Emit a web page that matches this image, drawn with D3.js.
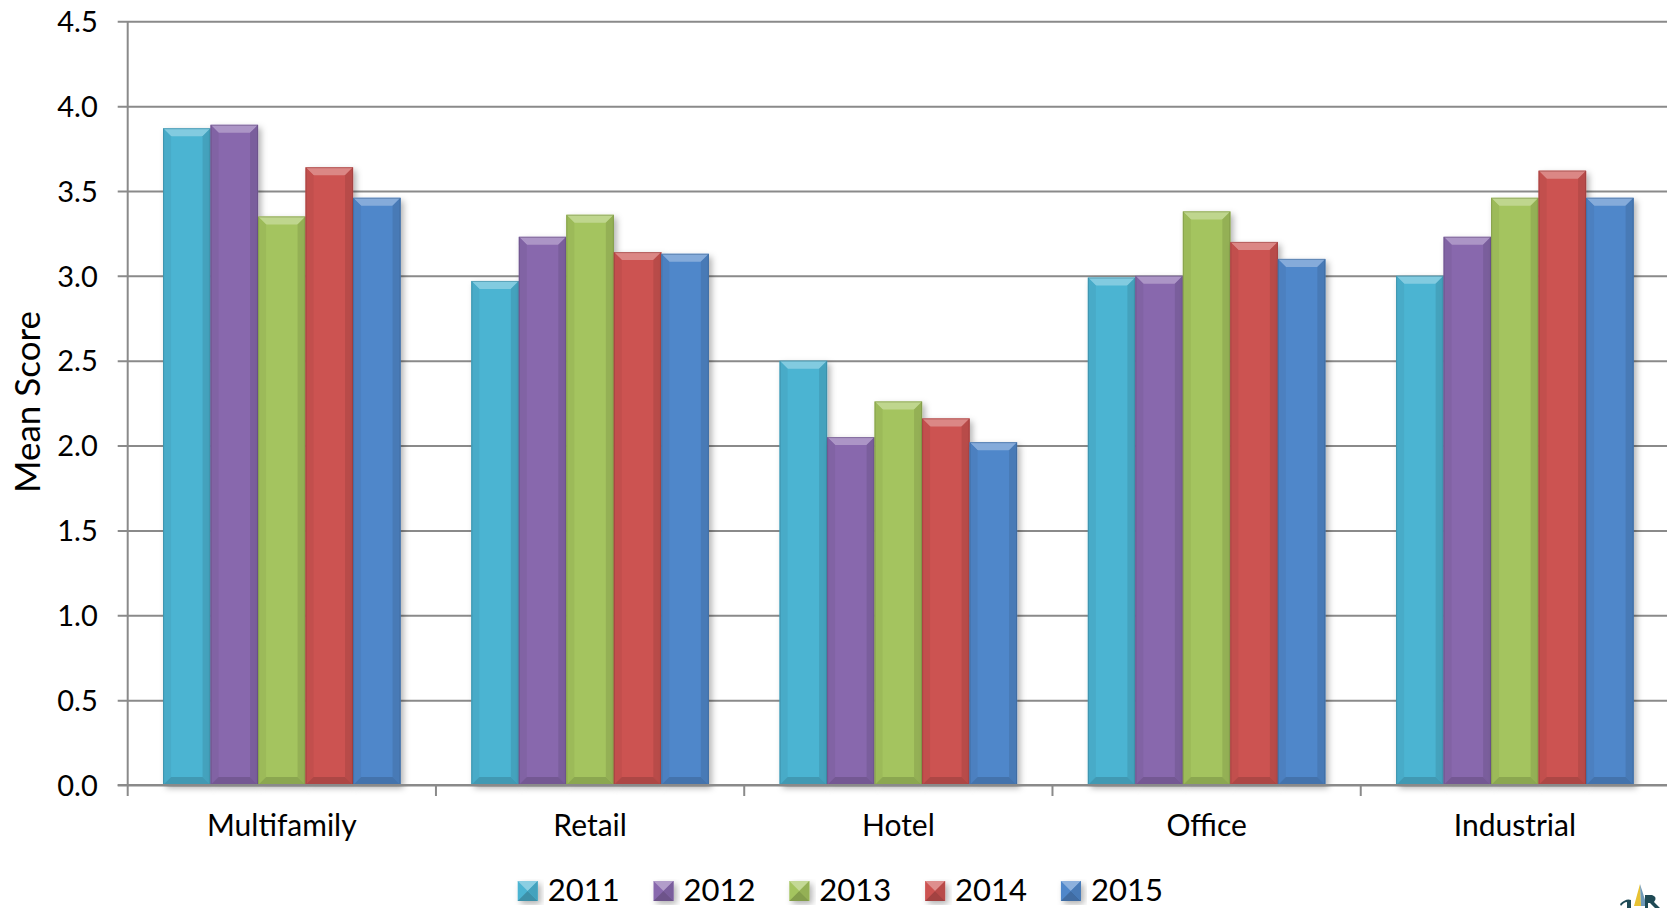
<!DOCTYPE html>
<html>
<head>
<meta charset="utf-8">
<script src="https://cdn.jsdelivr.net/npm/d3@7"></script>
<style>
  html, body { margin: 0; padding: 0; background: #fff; }
  svg { display: block; }
  text { font-family: Lato, "Open Sans", sans-serif; fill: #000; }
</style>
</head>
<body>
<svg id="chart" width="1667" height="908"></svg>
<script>
// Mean score by property type, one series per survey year
const categories = ["Multifamily", "Retail", "Hotel", "Office", "Industrial"];
const years = ["2011", "2012", "2013", "2014", "2015"];
const scores2011 = [3.87, 2.97, 2.50, 2.99, 3.00];
const scores2012 = [3.89, 3.23, 2.05, 3.00, 3.23];
const scores2013 = [3.35, 3.36, 2.26, 3.38, 3.46];
const scores2014 = [3.64, 3.14, 2.16, 3.20, 3.62];
const scores2015 = [3.46, 3.13, 2.02, 3.10, 3.46];
const yTicks = [0, 0.5, 1.0, 1.5, 2.0, 2.5, 3.0, 3.5, 4.0, 4.5];
const seriesColors = ["#4cb4d2", "#8868ad", "#a4c45e", "#cc5351", "#5087ca"];

const series = [scores2011, scores2012, scores2013, scores2014, scores2015];

const svg = d3.select("#chart");
const W = 1667, H = 908;
const margin = { left: 127.7, top: 21.3, bottom: 785, right: 1669 };

const y = d3.scaleLinear().domain([0, 4.5]).range([margin.bottom, margin.top]);
const x0 = d3.scaleBand().domain(categories).range([margin.left, margin.right]).padding(0);
const x1 = d3.scaleBand().domain(years).range([0, x0.bandwidth()])
  .paddingInner(0).paddingOuter(0.745);

const defs = svg.append("defs");
const shadow = defs.append("filter").attr("id", "barShadow")
  .attr("x", "-20%").attr("y", "-10%").attr("width", "150%").attr("height", "130%");
shadow.append("feDropShadow").attr("dx", 3).attr("dy", 3)
  .attr("stdDeviation", 3).attr("flood-color", "#000").attr("flood-opacity", 0.3);

const gridColor = "#8a8a8a";

// value axis: gridlines spanning the plot plus short outer ticks
const yAxis = d3.axisLeft(y)
  .tickValues(yTicks)
  .tickFormat(d3.format(".1f"))
  .tickSizeInner(-(W - margin.left))
  .tickSizeOuter(0)
  .tickPadding(0);

const gy = svg.append("g")
  .attr("transform", `translate(${margin.left},0)`)
  .call(yAxis);
gy.select(".domain").remove();
gy.selectAll(".tick line")
  .attr("x1", -10)
  .attr("stroke", gridColor)
  .attr("stroke-width", 2);
gy.selectAll(".tick text")
  .attr("x", -30)
  .attr("dy", "0.35em")
  .style("font-size", "29px")
  .style("font-family", "Lato, sans-serif")
  .attr("fill", "#000");

function mix(c, t, k) {
  return d3.interpolateRgb(c, t)(k);
}

// bars with a bevelled look
const bevel = 8;
const groups = svg.append("g").selectAll("g")
  .data(categories)
  .join("g")
  .attr("transform", d => `translate(${x0(d)},0)`);

groups.each(function (cat, ci) {
  const g = d3.select(this);
  years.forEach((yr, si) => {
    const v = series[si][ci];
    const bx = x1(yr), bw = x1.bandwidth();
    const top = y(v), bottom = y(0);
    const base = seriesColors[si];
    const bar = g.append("g");
    bar.append("rect")
      .attr("x", bx).attr("y", top)
      .attr("width", bw).attr("height", bottom - top)
      .attr("fill", base)
      .attr("filter", "url(#barShadow)");
    const b = Math.min(bevel, (bottom - top) / 2);
    const x2 = bx + bw;
    // top face
    bar.append("path")
      .attr("d", `M${bx},${top}L${x2},${top}L${x2 - b},${top + b}L${bx + b},${top + b}Z`)
      .attr("fill", mix(base, "#ffffff", 0.3));
    // left face
    bar.append("path")
      .attr("d", `M${bx},${top}L${bx + b},${top + b}L${bx + b},${bottom - b}L${bx},${bottom}Z`)
      .attr("fill", mix(base, "#000000", 0.05));
    // right face
    bar.append("path")
      .attr("d", `M${x2},${top}L${x2 - b},${top + b}L${x2 - b},${bottom - b}L${x2},${bottom}Z`)
      .attr("fill", mix(base, "#000000", 0.1));
    // bottom face
    bar.append("path")
      .attr("d", `M${bx},${bottom}L${bx + b},${bottom - b}L${x2 - b},${bottom - b}L${x2},${bottom}Z`)
      .attr("fill", mix(base, "#000000", 0.15));
    // thin edge outline
    bar.append("rect")
      .attr("x", bx + 0.5).attr("y", top + 0.5)
      .attr("width", bw - 1).attr("height", bottom - top - 1)
      .attr("fill", "none")
      .attr("stroke", mix(base, "#000000", 0.3))
      .attr("stroke-opacity", 0.5)
      .attr("stroke-width", 1);
  });
});

// category axis
const xAxis = d3.axisBottom(x0).tickSize(0).tickPadding(0);
const gx = svg.append("g")
  .attr("transform", `translate(0,${margin.bottom})`)
  .call(xAxis);
gx.select(".domain").remove();
gx.selectAll(".tick text")
  .attr("y", 30)
  .style("font-size", "30px")
  .style("font-family", "Lato, sans-serif")
  .attr("fill", "#000");

// axis lines and category separator ticks
svg.append("line")
  .attr("x1", margin.left).attr("x2", margin.left)
  .attr("y1", margin.top).attr("y2", margin.bottom + 11)
  .attr("stroke", gridColor).attr("stroke-width", 2);
svg.append("line")
  .attr("x1", margin.left - 10).attr("x2", W)
  .attr("y1", margin.bottom).attr("y2", margin.bottom)
  .attr("stroke", gridColor).attr("stroke-width", 2);
svg.append("g").selectAll("line")
  .data(categories.slice(1))
  .join("line")
  .attr("x1", d => x0(d)).attr("x2", d => x0(d))
  .attr("y1", margin.bottom).attr("y2", margin.bottom + 11)
  .attr("stroke", gridColor).attr("stroke-width", 2);

// axis title
svg.append("text")
  .attr("transform", `translate(40,402) rotate(-90)`)
  .attr("text-anchor", "middle")
  .style("font-size", "35px")
  .text("Mean Score");

// legend
const legend = svg.append("g").attr("transform", "translate(517.7,0)");
const legendStep = 135.8;
const items = legend.selectAll("g")
  .data(years)
  .join("g")
  .attr("transform", (d, i) => `translate(${i * legendStep},0)`);
items.each(function (yr, i) {
  const g = d3.select(this);
  const base = seriesColors[i];
  const s = 20, sx = 0, sy = 881;
  const c = [sx + s / 2, sy + s / 2];
  g.append("rect").attr("x", sx).attr("y", sy).attr("width", s).attr("height", s)
    .attr("fill", base).attr("filter", "url(#barShadow)");
  g.append("path").attr("d", `M${sx},${sy}L${sx + s},${sy}L${c[0]},${c[1]}Z`)
    .attr("fill", mix(base, "#ffffff", 0.35));
  g.append("path").attr("d", `M${sx},${sy + s}L${sx + s},${sy + s}L${c[0]},${c[1]}Z`)
    .attr("fill", mix(base, "#000000", 0.2));
  g.append("path").attr("d", `M${sx + s},${sy}L${sx + s},${sy + s}L${c[0]},${c[1]}Z`)
    .attr("fill", mix(base, "#000000", 0.1));
  g.append("text")
    .attr("x", 30).attr("y", 901)
    .attr("textLength", 72)
    .attr("lengthAdjust", "spacingAndGlyphs")
    .style("font-size", "31px")
    .text(yr);
});

// small corner mark
const mark = svg.append("g");
mark.append("path").attr("d", "M1640,884L1634,906L1641,906Z").attr("fill", "#e8c233");
mark.append("path").attr("d", "M1640,884L1641,906L1647,906Z").attr("fill", "#6f99b8");
mark.append("path").attr("d", "M1620,904Q1626,898 1631,900L1631,908L1627,908L1627,902Q1624,902 1621,906Z").attr("fill", "#1f4a55");
mark.append("path").attr("d", "M1645,895L1652,895Q1658,897 1654,902L1660,908L1655,908L1650,903L1648,903L1648,908L1645,908Z").attr("fill", "#1f4a55");
</script>
</body>
</html>
